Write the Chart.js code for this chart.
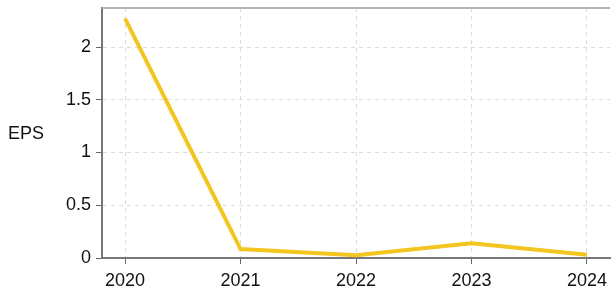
<!DOCTYPE html>
<html>
<head>
<meta charset="utf-8">
<script src="https://cdn.jsdelivr.net/npm/chart.js@4"></script>
<style>
  html, body { margin: 0; padding: 0; background: #fff; }
  #wrap { width: 611px; height: 291px; }
</style>
</head>
<body>
<div id="wrap"><canvas id="chart" width="611" height="291"></canvas></div>
<script>
// EPS by year
const years = [2020, 2021, 2022, 2023, 2024];
const eps = [2.27, 0.085, 0.025, 0.14, 0.03];
const yTicks = [0, 0.5, 1, 1.5, 2];
const axisTitle = 'EPS';

const FONT = 'Liberation Sans, Arial, sans-serif';

// top frame line + the "EPS" label
const extras = {
  id: 'extras',
  afterDraw(chart) {
    const { ctx, chartArea: a } = chart;
    ctx.save();
    ctx.strokeStyle = '#b4b4b4';
    ctx.lineWidth = 2;
    ctx.beginPath();
    ctx.moveTo(a.left, a.top);
    ctx.lineTo(a.right, a.top);
    ctx.stroke();
    ctx.fillStyle = '#111';
    ctx.font = '18px ' + FONT;
    ctx.textAlign = 'left';
    ctx.textBaseline = 'middle';
    ctx.fillText(axisTitle, 8, 134);
    ctx.restore();
  }
};

new Chart(document.getElementById('chart'), {
  type: 'line',
  data: {
    datasets: [{
      data: years.map((y, i) => ({ x: y, y: eps[i] })),
      borderColor: '#f3c520',
      borderWidth: 4,
      pointRadius: 0,
      tension: 0,
      clip: false
    }]
  },
  options: {
    responsive: false,
    animation: false,
    layout: { padding: { top: 8, right: 1, left: 0, bottom: 0 } },
    plugins: { legend: { display: false }, tooltip: { enabled: false } },
    scales: {
      x: {
        type: 'linear',
        min: 2019.8,
        max: 2024.2,
        afterBuildTicks: s => { s.ticks = years.map(v => ({ value: v })); },
        afterFit: s => { s.height = 33; s.paddingLeft = 0; s.paddingRight = 0; },
        grid: {
          color: '#dcdcdc',
          lineWidth: 1,
          tickLength: 6,
          tickColor: '#666'
        },
        border: { color: '#777', width: 2, dash: [4, 4] },
        ticks: {
          color: '#111',
          font: { family: FONT, size: 18 },
          padding: 6,
          maxRotation: 0,
          callback: v => String(v)
        }
      },
      y: {
        min: 0,
        max: 2.37,
        afterBuildTicks: s => { s.ticks = yTicks.map(v => ({ value: v })); },
        afterFit: s => { s.width = 102; s.paddingTop = 0; s.paddingBottom = 0; },
        grid: {
          color: '#dcdcdc',
          lineWidth: 1,
          tickLength: 6,
          tickColor: '#666'
        },
        border: { color: '#777', width: 2, dash: [4, 4] },
        ticks: {
          color: '#111',
          font: { family: FONT, size: 18 },
          padding: 5,
          callback: v => String(v)
        }
      }
    }
  },
  plugins: [extras]
});
</script>
</body>
</html>
